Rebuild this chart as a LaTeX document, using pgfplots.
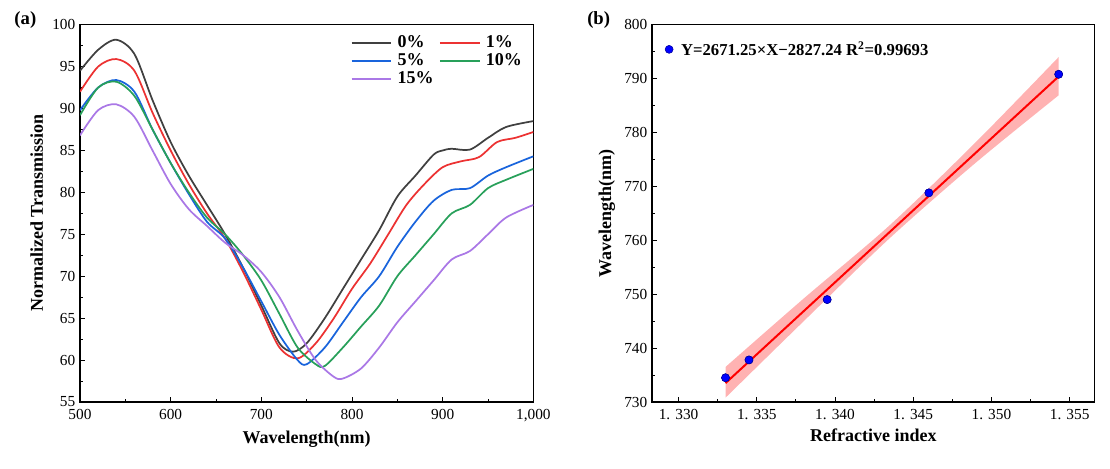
\documentclass[border=0pt]{standalone}
\usepackage{pgfplots}
\pgfplotsset{compat=1.18}
\usepgfplotslibrary{fillbetween}
\usepackage{fontspec}
\setmainfont{Liberation Serif}
\definecolor{c0}{RGB}{64,64,64}
\definecolor{c1}{RGB}{236,50,50}
\definecolor{c5}{RGB}{25,100,220}
\definecolor{c10}{RGB}{40,160,90}
\definecolor{c15}{RGB}{170,120,230}
\begin{document}
\begin{tikzpicture}[x=1pt,y=1pt]
\path (0,0) rectangle (832.5,351);
\pgfplotsset{every axis/.append style={
  scale only axis, axis line style={line width=1pt}, tick align=inside,
  xtick pos=bottom, ytick pos=left, minor tick num=1,
  tick style={black,line width=0.7pt}, major tick length=4pt, minor tick length=2.5pt,
  ticklabel style={font=\fontsize{11.5}{13}\selectfont},
  xticklabel style={yshift=-2pt},
  label style={font=\bfseries\fontsize{13.5}{15}\selectfont},
  /pgf/number format/assume math mode=true}}
\begin{axis}[at={(60pt,49.5pt)}, anchor=south west, width=340pt, height=283pt,
  xmin=500, xmax=1000, ymin=55, ymax=100, xtick={500,600,...,1000}, ytick={55,60,...,100},
  xlabel={Wavelength(nm)}, ylabel={Normalized Transmission},
  every axis plot/.append style={line width=1.3pt, smooth, no markers},
  legend style={draw=none, fill=none, at={(0.99,0.985)}, anchor=north east, font=\bfseries\fontsize{13.5}{15}\selectfont, column sep=2pt, row sep=-1pt},
  legend columns=2, legend cell align=left,
  legend image code/.code={\draw[#1,line width=1.3pt] (0,0) -- (1.05cm,0);}]
\addplot[c0] coordinates {(500,94.5)(520,97)(540,98.2)(560,96.5)(580,91)(600,86)(620,82)(640,78.5)(660,75)(680,71)(700,66.5)(720,62)(735,61)(750,62)(770,65)(790,68.5)(810,72)(830,75.5)(850,79.5)(870,82)(890,84.5)(900,85)(910,85.2)(930,85.1)(950,86.5)(970,87.8)(1000,88.5)};
\addplot[c1] coordinates {(500,92)(520,95)(540,95.9)(560,94.5)(580,89.5)(600,85)(620,81)(640,77.5)(660,74.5)(680,70.5)(700,66)(720,61.5)(740,60.2)(760,62)(780,65)(800,68.5)(820,71.5)(840,75)(860,78.5)(880,81)(900,83)(920,83.7)(940,84.2)(960,86)(980,86.5)(1000,87.2)};
\addplot[c5] coordinates {(500,89.8)(520,92.5)(540,93.4)(560,92)(580,87.5)(600,83.5)(620,79.8)(640,76.5)(660,74.5)(680,71)(700,67)(720,63)(740,60)(750,59.5)(770,61.5)(790,64.5)(810,67.5)(830,70)(850,73.5)(870,76.5)(890,79)(910,80.3)(930,80.5)(950,82)(970,83)(1000,84.3)};
\addplot[c10] coordinates {(500,89.2)(520,92.5)(540,93.2)(560,91.5)(580,87.5)(600,83.5)(620,80)(640,77)(660,75)(680,72.5)(700,69.5)(720,65.5)(740,61.5)(760,59.5)(770,59.3)(790,61.5)(810,64)(830,66.5)(850,70)(870,72.5)(890,75)(910,77.5)(930,78.5)(950,80.5)(970,81.5)(1000,82.8)};
\addplot[c15] coordinates {(500,86.8)(520,89.8)(540,90.5)(560,89)(580,85)(600,81)(620,78)(640,76)(660,74)(680,72.5)(700,70.5)(720,67.5)(740,63.5)(760,60)(780,58)(790,57.8)(810,59)(830,61.5)(850,64.5)(870,67)(890,69.5)(910,72)(930,73)(950,75)(970,77)(1000,78.5)};
\legend{0\%,1\%,5\%,10\%,15\%}
\end{axis}
\begin{axis}[at={(489pt,49.5pt)}, anchor=south west, width=332pt, height=283pt,
  xmin=1.3283, xmax=1.3566, ymin=730, ymax=800,
  xtick={1.330,1.335,1.340,1.345,1.350,1.355},
  xticklabels={1. 330,1. 335,1. 340,1. 345,1. 350,1. 355},
  ytick={730,740,...,800},
  xlabel={Refractive index}, ylabel={Wavelength(nm)},
  legend style={draw=none, fill=none, at={(0.02,0.97)}, anchor=north west, font=\bfseries\fontsize{12.5}{14}\selectfont}]
\addplot[only marks, mark=*, mark size=3pt, mark options={fill=blue, draw=blue!60!black}] coordinates {(1.3330,734.5)(1.3345,737.8)(1.3395,749)(1.3460,768.8)(1.3543,790.8)};
\addlegendentry{\hspace{4pt}Y=2671.25×X−2827.24 R\textsuperscript{2}=0.99693}
\addplot[name path=up, draw=none, forget plot, smooth] coordinates {(1.3330,736.5)(1.3380,749.2)(1.3435,762.8)(1.3490,778.2)(1.3543,794)};
\addplot[name path=lo, draw=none, forget plot, smooth] coordinates {(1.3330,730.8)(1.3380,745.0)(1.3435,760.4)(1.3490,774.4)(1.3543,786.9)};
\addplot[fill=red!30, draw=none, forget plot] fill between[of=up and lo];
\addplot[red, line width=1.5pt, forget plot] coordinates {(1.3330,733.5)(1.3543,790.4)};
\addplot[only marks, mark=*, mark size=3pt, mark options={fill=blue, draw=blue!60!black}, forget plot] coordinates {(1.3330,734.5)(1.3345,737.8)(1.3395,749)(1.3460,768.8)(1.3543,790.8)};
\end{axis}
\node[font=\bfseries\fontsize{14}{16}\selectfont] at (19,336) {(a)};
\node[font=\bfseries\fontsize{14}{16}\selectfont] at (449,336) {(b)};
\end{tikzpicture}
\end{document}
